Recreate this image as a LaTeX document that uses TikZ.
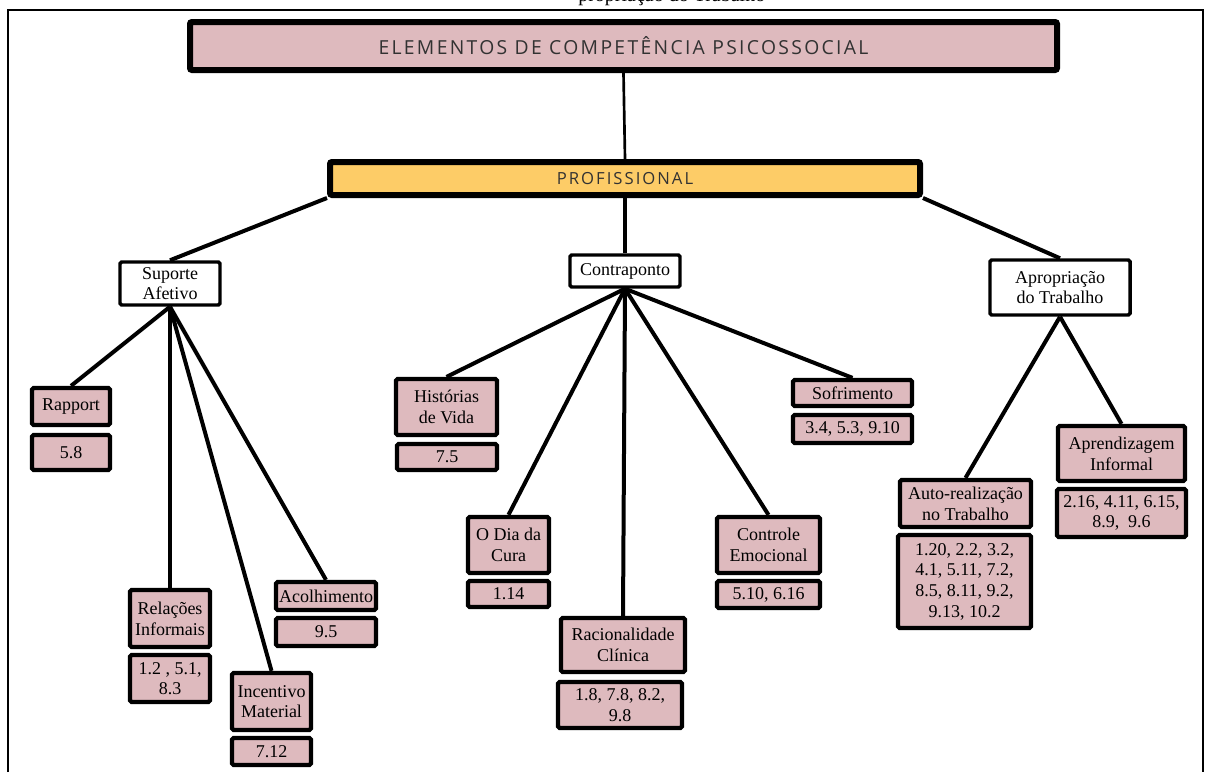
\documentclass[tikz,border=0pt]{standalone}
\usepackage{fontspec}
\setmainfont{Liberation Serif}
\newfontfamily\hdfont[LetterSpace=12]{Open Sans}
\usetikzlibrary{backgrounds}
\definecolor{pinkfill}{RGB}{222,186,190}
\definecolor{yellowfill}{RGB}{253,204,103}
\definecolor{hdtext}{RGB}{50,50,50}
\newcommand\Bx[7]{\node[#6, minimum width={(#4-#2)*0.75pt}, minimum height={(#5-#3)*0.75pt}] (#1) at ({(#2+#4)/2},{(#3+#5)/2}) {#7};}
\tikzset{
  basebox/.style={inner sep=0pt, align=center, rounded corners=1.2pt, font=\fontsize{13.5}{15.5}\selectfont},
  pinkbox/.style={basebox, draw=black, line width=3.2pt, fill=pinkfill},
  whitebox/.style={basebox, draw=black, line width=2.6pt, fill=white},
  headbox/.style={inner sep=0pt, draw=black, line width=4.5pt, rounded corners=1.5pt, text=hdtext},
  conn/.style={draw=black, line width=3pt},
  thin/.style={draw=black, line width=1.6pt}
}
\begin{document}
\begin{tikzpicture}[x=0.75pt,y=-0.75pt]
\useasboundingbox (0,0) rectangle (1209,772);
\node[anchor=base west, inner sep=0pt, font=\fontsize{15}{18}\selectfont] (cap) at (578,1.5) {propriação do Trabalho};
\draw[thin] (8,772) -- (8,10) -- (1203,10) -- (1203,772);
% header boxes
\Bx{top}{190}{22}{1057}{70}{headbox, fill=pinkfill, font=\hdfont\fontsize{14.5}{16}\selectfont}{ELEMENTOS DE COMPETÊNCIA PSICOSSOCIAL}
\Bx{prof}{330}{162}{920}{195}{headbox, fill=yellowfill, font=\hdfont\fontsize{12.5}{14}\selectfont}{PROFISSIONAL}
% second level
\Bx{sup}{120}{262}{220}{305}{whitebox}{Suporte\\Afetivo}
\Bx{contra}{570}{255}{680}{287}{whitebox}{Contraponto}
\Bx{aprop}{990}{260}{1130}{315}{whitebox}{Apropriação\\do Trabalho}
% Suporte Afetivo children
\Bx{rap}{32}{388}{110}{425}{pinkbox}{Rapport}
\Bx{rapn}{32}{435}{110}{470}{pinkbox}{5.8}
\Bx{rel}{130}{590}{210}{647}{pinkbox}{Relações\\Informais}
\Bx{reln}{130}{655}{210}{702}{pinkbox}{1.2 , 5.1,\\8.3}
\Bx{inc}{232}{673}{311}{730}{pinkbox}{Incentivo\\Material}
\Bx{incn}{232}{738}{311}{765}{pinkbox}{7.12}
\Bx{aco}{276}{582}{376}{610}{pinkbox}{Acolhimento}
\Bx{acon}{276}{618}{376}{646}{pinkbox}{9.5}
% Contraponto children
\Bx{hist}{396}{379}{497}{435}{pinkbox}{Histórias\\de Vida}
\Bx{histn}{397}{444}{497}{470}{pinkbox}{7.5}
\Bx{dia}{468}{517}{549}{573}{pinkbox}{O Dia da\\Cura}
\Bx{dian}{468}{581}{549}{607}{pinkbox}{1.14}
\Bx{rac}{561}{618}{685}{672}{pinkbox}{Racionalidade\\Clínica}
\Bx{racn}{558}{682}{682}{728}{pinkbox}{1.8, 7.8, 8.2,\\9.8}
\Bx{ctl}{717}{517}{820}{573}{pinkbox}{Controle\\Emocional}
\Bx{ctln}{717}{581}{820}{608}{pinkbox}{5.10, 6.16}
\Bx{sof}{793}{380}{912}{406}{pinkbox}{Sofrimento}
\Bx{sofn}{793}{415}{912}{443}{pinkbox}{3.4, 5.3, 9.10}
% Apropriacao children
\Bx{auto}{900}{480}{1031}{527}{pinkbox}{Auto-realização\\no Trabalho}
\Bx{auton}{898}{535}{1031}{628}{pinkbox}{1.20, 2.2, 3.2,\\4.1, 5.11, 7.2,\\8.5, 8.11, 9.2,\\9.13, 10.2}
\Bx{apr}{1058}{426}{1185}{481}{pinkbox}{Aprendizagem\\Informal}
\Bx{aprn}{1057}{489}{1186}{537}{pinkbox}{2.16, 4.11, 6.15,\\8.9,\ \ 9.6}
\begin{pgfonlayer}{background}
\draw[draw=black, line width=2pt] (top.south) -- (prof.north);
\draw[conn] (prof.south west) -- (sup.north);
\draw[conn] (prof.south) -- (contra.north);
\draw[conn] (prof.south east) -- (aprop.north);
\foreach \c in {rap,rel,inc,aco} \draw[conn] (sup.south) -- (\c.north);
\foreach \c in {hist,dia,rac,ctl,sof} \draw[conn] (contra.south) -- (\c.north);
\foreach \c in {auto,apr} \draw[conn] (aprop.south) -- (\c.north);
\end{pgfonlayer}
\end{tikzpicture}
\end{document}
